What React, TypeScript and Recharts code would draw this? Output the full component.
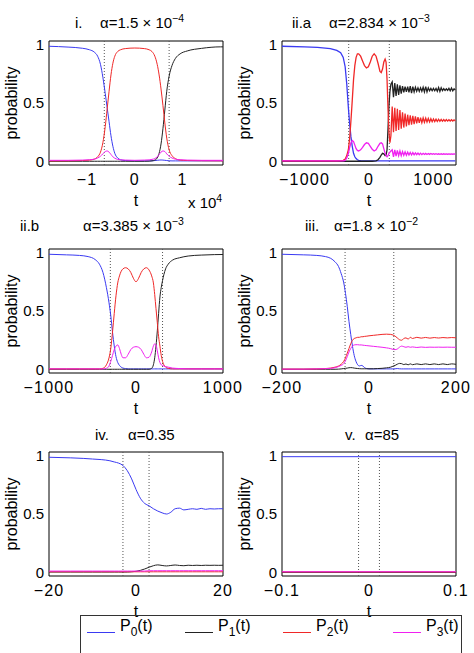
import React from "react";
import { LineChart, Line, XAxis, YAxis, ReferenceLine, ReferenceArea } from "recharts";

const BLUE = "#3a3af2";
const BLACK = "#222222";
const RED = "#f02828";
const MAGENTA = "#f020f0";

// panel i: alpha = 1.5e-4 (t in seconds, axis shown in units of 1e4)
const tI = [-18000, -14000, -11000, -9500, -8500, -7800, -7200, -6700, -6200, -5800, -5400, -5000, -4600, -4200, -3600, -3000, -2000, 0, 2000, 3000, 3600, 4200, 4700, 5100, 5500, 5900, 6300, 6700, 7200, 7800, 8500, 9500, 11000, 14000, 18000, 18500];
const p0I = [0.985, 0.978, 0.968, 0.955, 0.935, 0.9, 0.83, 0.72, 0.58, 0.46, 0.34, 0.22, 0.13, 0.07, 0.03, 0.015, 0.008, 0.005, 0.005, 0.005, 0.006, 0.008, 0.01, 0.012, 0.013, 0.012, 0.01, 0.008, 0.006, 0.005, 0.005, 0.005, 0.005, 0.005, 0.005, 0.005];
const p1I = [0.002, 0.002, 0.002, 0.002, 0.002, 0.002, 0.002, 0.002, 0.002, 0.002, 0.002, 0.002, 0.002, 0.002, 0.002, 0.002, 0.002, 0.002, 0.002, 0.003, 0.005, 0.012, 0.03, 0.07, 0.15, 0.28, 0.44, 0.6, 0.73, 0.82, 0.88, 0.92, 0.945, 0.967, 0.98, 0.98];
const p2I = [0.005, 0.006, 0.008, 0.012, 0.02, 0.04, 0.08, 0.16, 0.3, 0.45, 0.6, 0.74, 0.84, 0.9, 0.94, 0.955, 0.965, 0.97, 0.965, 0.955, 0.94, 0.9, 0.83, 0.74, 0.62, 0.48, 0.33, 0.2, 0.1, 0.05, 0.025, 0.012, 0.008, 0.006, 0.005, 0.005];
const p3I = [0.01, 0.01, 0.012, 0.015, 0.02, 0.03, 0.045, 0.065, 0.085, 0.09, 0.08, 0.06, 0.04, 0.028, 0.018, 0.014, 0.012, 0.01, 0.012, 0.014, 0.018, 0.025, 0.04, 0.06, 0.08, 0.09, 0.085, 0.065, 0.045, 0.03, 0.02, 0.015, 0.012, 0.01, 0.01, 0.01];

// panel ii.a: alpha = 2.834e-3
const tIIa = [-1350, -1000, -800, -600, -500, -440, -400, -370, -345, -320, -300, -280, -260, -240, -220, -200, -180, -160, -130, -100, -70, -40, -10, 20, 50, 80, 110, 140, 170, 190, 210, 230, 250, 265, 280, 295, 310, 325, 340,
  360, 380, 400, 420, 440, 460, 480, 500, 520, 540, 560, 580, 600, 620, 640, 660, 680, 700, 720, 740, 760, 780, 800, 820, 840, 860, 880, 900, 920, 940, 960, 980, 1000, 1020, 1040, 1060, 1080, 1100, 1120, 1140, 1160, 1180, 1200, 1220, 1240, 1260, 1280, 1300, 1320, 1340];
const p0IIa = [0.985, 0.98, 0.975, 0.965, 0.95, 0.93, 0.89, 0.81, 0.66, 0.46, 0.32, 0.21, 0.13, 0.07, 0.04, 0.025, 0.015, 0.01, 0.007, 0.005, 0.005, 0.005, 0.005, 0.005, 0.005, 0.005, 0.005, 0.005, 0.005, 0.005, 0.005, 0.005, 0.005, 0.005, 0.005, 0.005, 0.005, 0.005, 0.005,
  0.005, 0.005, 0.005, 0.005, 0.005, 0.005, 0.005, 0.005, 0.005, 0.005, 0.005, 0.005, 0.005, 0.005, 0.005, 0.005, 0.005, 0.005, 0.005, 0.005, 0.005, 0.005, 0.005, 0.005, 0.005, 0.005, 0.005, 0.005, 0.005, 0.005, 0.005, 0.005, 0.005, 0.005, 0.005, 0.005, 0.005, 0.005, 0.005, 0.005, 0.005, 0.005, 0.005, 0.005, 0.005, 0.005, 0.005, 0.005, 0.005, 0.005];
const p1IIa = [0.002, 0.002, 0.002, 0.002, 0.002, 0.002, 0.002, 0.002, 0.002, 0.002, 0.002, 0.002, 0.002, 0.002, 0.002, 0.002, 0.002, 0.002, 0.002, 0.002, 0.002, 0.002, 0.002, 0.002, 0.002, 0.003, 0.005, 0.015, 0.035, 0.055, 0.07, 0.065, 0.05, 0.055, 0.1, 0.28, 0.48, 0.6, 0.66,
  0.68, 0.55, 0.67, 0.56, 0.66, 0.57, 0.65, 0.58, 0.645, 0.59, 0.64, 0.595, 0.64, 0.59, 0.645, 0.585, 0.64, 0.595, 0.635, 0.6, 0.63, 0.6, 0.63, 0.6, 0.635, 0.595, 0.64, 0.595, 0.63, 0.605, 0.625, 0.605, 0.625, 0.605, 0.625, 0.6, 0.632, 0.598, 0.63, 0.605, 0.622, 0.608, 0.622, 0.608, 0.625, 0.604, 0.628, 0.604, 0.622, 0.61];
const p2IIa = [0.005, 0.005, 0.005, 0.005, 0.005, 0.007, 0.01, 0.02, 0.05, 0.1, 0.2, 0.35, 0.52, 0.7, 0.82, 0.89, 0.92, 0.92, 0.9, 0.86, 0.82, 0.8, 0.81, 0.85, 0.9, 0.92, 0.9, 0.84, 0.77, 0.76, 0.79, 0.85, 0.875, 0.85, 0.7, 0.45, 0.25, 0.16, 0.22,
  0.47, 0.25, 0.46, 0.26, 0.45, 0.27, 0.44, 0.28, 0.42, 0.29, 0.41, 0.3, 0.4, 0.31, 0.395, 0.315, 0.39, 0.32, 0.385, 0.325, 0.38, 0.33, 0.375, 0.332, 0.372, 0.335, 0.37, 0.337, 0.368, 0.338, 0.366, 0.34, 0.364, 0.341, 0.362, 0.342, 0.361, 0.343, 0.36, 0.344, 0.359, 0.345, 0.358, 0.345, 0.357, 0.346, 0.357, 0.346, 0.356, 0.347];
const p3IIa = [0.005, 0.005, 0.005, 0.005, 0.005, 0.005, 0.006, 0.01, 0.03, 0.07, 0.12, 0.16, 0.18, 0.17, 0.14, 0.11, 0.095, 0.09, 0.1, 0.12, 0.145, 0.16, 0.155, 0.13, 0.105, 0.09, 0.1, 0.13, 0.155, 0.16, 0.15, 0.11, 0.07, 0.05, 0.04, 0.05, 0.07, 0.08, 0.09,
  0.1, 0.04, 0.1, 0.045, 0.095, 0.05, 0.09, 0.05, 0.085, 0.052, 0.082, 0.054, 0.08, 0.055, 0.078, 0.056, 0.076, 0.057, 0.074, 0.058, 0.072, 0.058, 0.071, 0.059, 0.07, 0.06, 0.069, 0.06, 0.068, 0.061, 0.068, 0.061, 0.067, 0.061, 0.067, 0.062, 0.066, 0.062, 0.066, 0.062, 0.066, 0.062, 0.065, 0.062, 0.065, 0.062, 0.065, 0.062, 0.065, 0.062];

// panel ii.b: alpha = 3.385e-3
const tIIb = [-1000, -800, -650, -550, -470, -420, -380, -340, -310, -290, -270, -250, -230, -210, -190, -170, -150, -120, -90, -60, -30, 0, 30, 60, 90, 120, 150, 180, 200, 215, 230, 245, 260, 275, 290, 305, 320, 340, 370, 420, 500, 600, 750, 900, 1000];
const p0IIb = [0.985, 0.98, 0.975, 0.965, 0.94, 0.9, 0.83, 0.7, 0.57, 0.46, 0.32, 0.2, 0.11, 0.06, 0.035, 0.02, 0.012, 0.008, 0.005, 0.005, 0.005, 0.005, 0.005, 0.005, 0.005, 0.005, 0.005, 0.005, 0.005, 0.005, 0.005, 0.005, 0.005, 0.005, 0.005, 0.005, 0.005, 0.005, 0.005, 0.005, 0.005, 0.005, 0.005, 0.005, 0.005];
const p1IIb = [0.002, 0.002, 0.002, 0.002, 0.002, 0.002, 0.002, 0.002, 0.002, 0.002, 0.002, 0.002, 0.002, 0.002, 0.002, 0.002, 0.002, 0.002, 0.002, 0.002, 0.002, 0.002, 0.002, 0.002, 0.002, 0.002, 0.002, 0.01, 0.04, 0.1, 0.2, 0.33, 0.48, 0.62, 0.7, 0.76, 0.81, 0.86, 0.9, 0.935, 0.955, 0.97, 0.978, 0.982, 0.983];
const p2IIb = [0.005, 0.005, 0.005, 0.005, 0.005, 0.005, 0.01, 0.04, 0.1, 0.18, 0.32, 0.48, 0.63, 0.74, 0.8, 0.84, 0.86, 0.87, 0.86, 0.83, 0.78, 0.75, 0.78, 0.83, 0.86, 0.87, 0.85, 0.8, 0.74, 0.64, 0.52, 0.4, 0.28, 0.2, 0.12, 0.07, 0.04, 0.02, 0.01, 0.005, 0.005, 0.005, 0.005, 0.005, 0.005];
const p3IIb = [0.005, 0.005, 0.005, 0.005, 0.005, 0.005, 0.005, 0.01, 0.03, 0.07, 0.12, 0.17, 0.2, 0.21, 0.18, 0.13, 0.1, 0.1, 0.13, 0.17, 0.19, 0.195, 0.19, 0.17, 0.13, 0.1, 0.105, 0.15, 0.2, 0.22, 0.21, 0.16, 0.1, 0.06, 0.04, 0.035, 0.03, 0.025, 0.02, 0.012, 0.008, 0.005, 0.005, 0.005, 0.005];

// panel iii: alpha = 1.8e-2
const tIII = [-200, -150, -120, -100, -88, -78, -70, -64, -58, -54, -50, -46, -42, -38, -34, -30, -26, -22, -18, -14, -10, -5, 0, 10, 20, 30, 40, 50, 55, 60, 65, 70, 75, 80, 85, 90, 95, 100, 110, 120, 130, 140, 150, 160, 170, 180, 190, 200];
const p0III = [0.985, 0.98, 0.975, 0.965, 0.95, 0.92, 0.88, 0.82, 0.74, 0.65, 0.54, 0.41, 0.3, 0.2, 0.12, 0.07, 0.04, 0.03, 0.035, 0.03, 0.015, 0.008, 0.005, 0.005, 0.005, 0.005, 0.005, 0.005, 0.005, 0.006, 0.008, 0.006, 0.005, 0.005, 0.005, 0.005, 0.005, 0.005, 0.005, 0.005, 0.005, 0.005, 0.005, 0.005, 0.005, 0.005, 0.005, 0.005];
const p1III = [0.002, 0.002, 0.002, 0.002, 0.002, 0.002, 0.003, 0.005, 0.008, 0.01, 0.012, 0.015, 0.016, 0.015, 0.012, 0.01, 0.008, 0.007, 0.006, 0.006, 0.006, 0.006, 0.006, 0.006, 0.008, 0.01, 0.014, 0.02, 0.028, 0.035, 0.045, 0.052, 0.05, 0.042, 0.047, 0.04, 0.048, 0.041, 0.048, 0.042, 0.048, 0.042, 0.048, 0.042, 0.048, 0.042, 0.048, 0.044];
const p2III = [0.003, 0.003, 0.005, 0.008, 0.012, 0.02, 0.03, 0.045, 0.07, 0.1, 0.14, 0.18, 0.22, 0.25, 0.265, 0.27, 0.275, 0.275, 0.28, 0.28, 0.283, 0.285, 0.288, 0.292, 0.296, 0.3, 0.302, 0.3, 0.295, 0.285, 0.27, 0.255, 0.25, 0.265, 0.27, 0.26, 0.275, 0.265, 0.275, 0.268, 0.274, 0.268, 0.273, 0.269, 0.273, 0.27, 0.273, 0.271];
const p3III = [0.003, 0.003, 0.005, 0.007, 0.01, 0.015, 0.025, 0.035, 0.05, 0.075, 0.11, 0.15, 0.18, 0.2, 0.21, 0.212, 0.212, 0.21, 0.21, 0.208, 0.206, 0.204, 0.202, 0.198, 0.194, 0.19, 0.185, 0.178, 0.172, 0.17, 0.175, 0.19, 0.2, 0.195, 0.19, 0.195, 0.19, 0.193, 0.188, 0.192, 0.189, 0.191, 0.19, 0.191, 0.19, 0.191, 0.19, 0.19];

// panel iv: alpha = 0.35
const tIV = [-20, -15, -12, -10, -8, -6, -5, -4, -3, -2, -1, 0, 1, 2, 3, 4, 5, 6, 7, 8, 9, 10, 11, 12, 13, 14, 15, 16, 17, 18, 19, 20];
const p0IV = [0.985, 0.98, 0.975, 0.97, 0.965, 0.955, 0.945, 0.935, 0.915, 0.87, 0.8, 0.71, 0.635, 0.59, 0.57, 0.545, 0.525, 0.51, 0.5, 0.515, 0.545, 0.55, 0.535, 0.54, 0.545, 0.54, 0.548, 0.54, 0.545, 0.543, 0.545, 0.545];
const p1IV = [0.004, 0.004, 0.004, 0.004, 0.004, 0.004, 0.004, 0.004, 0.004, 0.004, 0.006, 0.01, 0.018, 0.03, 0.045, 0.058, 0.065, 0.06, 0.056, 0.06, 0.064, 0.06, 0.058, 0.062, 0.06, 0.062, 0.06, 0.062, 0.061, 0.062, 0.061, 0.062];
const p2IV = [0.006, 0.006, 0.006, 0.006, 0.006, 0.006, 0.006, 0.006, 0.006, 0.006, 0.006, 0.006, 0.006, 0.006, 0.006, 0.006, 0.006, 0.006, 0.006, 0.006, 0.006, 0.006, 0.006, 0.006, 0.006, 0.006, 0.006, 0.006, 0.006, 0.006, 0.006, 0.006];
const p3IV = [0.012, 0.012, 0.012, 0.012, 0.012, 0.012, 0.012, 0.012, 0.012, 0.012, 0.012, 0.012, 0.012, 0.012, 0.015, 0.015, 0.015, 0.015, 0.015, 0.015, 0.015, 0.015, 0.015, 0.015, 0.015, 0.015, 0.015, 0.015, 0.015, 0.015, 0.015, 0.015];

// panel v: alpha = 85
const tV = [-0.1, 0.1];
const p0V = [0.99, 0.99];
const p1V = [0.001, 0.001];
const p2V = [0.005, 0.005];
const p3V = [0.006, 0.006];

const FONT = "'Liberation Sans', Arial, Helvetica, sans-serif";
const minus = (s: string) => s.replace("-", "\u2212");

type PanelProps = {
  t: number[];
  p0: number[];
  p1: number[];
  p2: number[];
  p3: number[];
  xDomain: [number, number];
  xTicks: number[];
  marks: number[];
  left: number;
  top: number;
  curve?: "monotone" | "linear";
  lineWidth?: number;
  xFormat?: (v: number) => string;
};

function Panel({ t, p0, p1, p2, p3, xDomain, xTicks, marks, left, top, curve = "monotone", lineWidth = 1, xFormat }: PanelProps) {
  const rows = t.map((v, i) => ({ t: v, p0: p0[i], p1: p1[i], p2: p2[i], p3: p3[i] }));
  const fmt = xFormat ?? ((v: number) => minus(String(v)));
  return (
    <div style={{ position: "absolute", left, top }}>
      <LineChart width={263} height={190} data={rows} margin={{ top: 10, right: 40, bottom: 16, left: 0 }}>
        <XAxis
          dataKey="t"
          type="number"
          domain={xDomain}
          ticks={xTicks}
          allowDataOverflow
          axisLine={false}
          tickLine={false}
          tickSize={3}
          tickMargin={6}
          height={40}
          tick={{ fontSize: 16, fill: "#000", letterSpacing: 1.2 }}
          tickFormatter={fmt}
          label={{ value: "t", position: "insideBottom", offset: -1, fontSize: 16, fill: "#000" }}
        />
        <YAxis
          type="number"
          domain={[-0.03, 1.03]}
          ticks={[0, 0.5, 1]}
          allowDataOverflow
          width={49}
          axisLine={false}
          tickLine={false}
          tickSize={2}
          tickMargin={3}
          tick={{ fontSize: 15, fill: "#000" }}
          label={{ value: "probability", angle: -90, position: "insideLeft", offset: 11, fontSize: 16, fill: "#000", style: { textAnchor: "middle" } }}
        />
        {marks.map((m) => (
          <ReferenceLine key={m} x={m} stroke="#555" strokeDasharray="1 2" />
        ))}
        <Line type={curve} dataKey="p0" stroke={BLUE} strokeWidth={lineWidth} dot={false} isAnimationActive={false} />
        <Line type={curve} dataKey="p1" stroke={BLACK} strokeWidth={lineWidth} dot={false} isAnimationActive={false} />
        <Line type={curve} dataKey="p2" stroke={RED} strokeWidth={lineWidth} dot={false} isAnimationActive={false} />
        <Line type={curve} dataKey="p3" stroke={MAGENTA} strokeWidth={lineWidth} dot={false} isAnimationActive={false} />
        <ReferenceArea x1={xDomain[0]} x2={xDomain[1]} y1={-0.03} y2={1.03} fill="none" stroke="#000" strokeWidth={1} ifOverflow="visible" />
      </LineChart>
    </div>
  );
}

function Title({ label, formula, lx, fx, base }: { label: string; formula: React.ReactNode; lx: number; fx: number; base: number }) {
  const top = base - 0.8465 * 15;
  return (
    <>
      <div style={{ position: "absolute", left: lx, top, fontSize: 15, lineHeight: "15px", whiteSpace: "nowrap" }}>{label}</div>
      <div style={{ position: "absolute", left: fx, top, fontSize: 15, lineHeight: "15px", whiteSpace: "nowrap" }}>{formula}</div>
    </>
  );
}

const sup = (s: string) => (
  <span style={{ fontSize: "0.7em", position: "relative", top: "-0.6em" }}>{s}</span>
);

function LegendItem({ x, color, idx }: { x: number; color: string; idx: string }) {
  return (
    <>
      <div style={{ position: "absolute", left: x, top: 632, width: 28, borderTop: `1px solid ${color}` }} />
      <div style={{ position: "absolute", left: x + 33, top: 632 - 0.8465 * 16, fontSize: 16, lineHeight: "16px", whiteSpace: "nowrap" }}>
        P<span style={{ fontSize: "0.75em", position: "relative", top: "0.4em" }}>{idx}</span>(t)
      </div>
    </>
  );
}

export default function App() {
  return (
    <div style={{ position: "absolute", left: 0, top: 0, width: 474, height: 653, overflow: "hidden", background: "#fff", fontFamily: FONT, color: "#000" }}>
      <Title label="i." formula={<>α=1.5 × 10{sup("\u22124")}</>} lx={75} fx={100} base={27.5} />
      <Title label="ii.a" formula={<>α=2.834 × 10{sup("\u22123")}</>} lx={292} fx={329} base={27.5} />
      <Title label="ii.b" formula={<>α=3.385 × 10{sup("\u22123")}</>} lx={20} fx={83} base={230.5} />
      <Title label="iii." formula={<>α=1.8 × 10{sup("\u22122")}</>} lx={305} fx={334} base={230.5} />
      <Title label="iv." formula={<>α=0.35</>} lx={95} fx={128} base={440} />
      <Title label="v." formula={<>α=85</>} lx={345} fx={365} base={440} />

      <Panel t={tI} p0={p0I} p1={p1I} p2={p2I} p3={p3I} xDomain={[-18000, 18500]} xTicks={[-10000, 0, 10000]} marks={[-6400, 7200]} left={0} top={31} xFormat={(v) => minus(String(v / 10000))} />
      <Panel t={tIIa} p0={p0IIa} p1={p1IIa} p2={p2IIa} p3={p3IIa} xDomain={[-1350, 1350]} xTicks={[-1000, 0, 1000]} marks={[-315, 315]} left={233} top={31} curve="linear" lineWidth={1.3} />
      <Panel t={tIIb} p0={p0IIb} p1={p1IIb} p2={p2IIb} p3={p3IIb} xDomain={[-1000, 1000]} xTicks={[-1000, 0, 1000]} marks={[-295, 305]} left={0} top={239} />
      <Panel t={tIII} p0={p0III} p1={p1III} p2={p2III} p3={p3III} xDomain={[-200, 200]} xTicks={[-200, 0, 200]} marks={[-55, 57]} left={233} top={239} />
      <Panel t={tIV} p0={p0IV} p1={p1IV} p2={p2IV} p3={p3IV} xDomain={[-20, 20]} xTicks={[-20, 0, 20]} marks={[-3, 3]} left={0} top={442} />
      <Panel t={tV} p0={p0V} p1={p1V} p2={p2V} p3={p3V} xDomain={[-0.1, 0.1]} xTicks={[-0.1, 0, 0.1]} marks={[-0.012, 0.012]} left={233} top={442} curve="linear" />

      <div style={{ position: "absolute", left: 188, top: 208 - 0.8465 * 15, fontSize: 15, lineHeight: "15px", whiteSpace: "nowrap" }}>
        x 10{sup("4")}
      </div>

      <div style={{ position: "absolute", left: 80, top: 615, width: 382, height: 60, border: "1px solid #333", boxSizing: "border-box" }} />
      <LegendItem x={87} color={BLUE} idx="0" />
      <LegendItem x={185} color={BLACK} idx="1" />
      <LegendItem x={283} color={RED} idx="2" />
      <LegendItem x={393} color={MAGENTA} idx="3" />
    </div>
  );
}
